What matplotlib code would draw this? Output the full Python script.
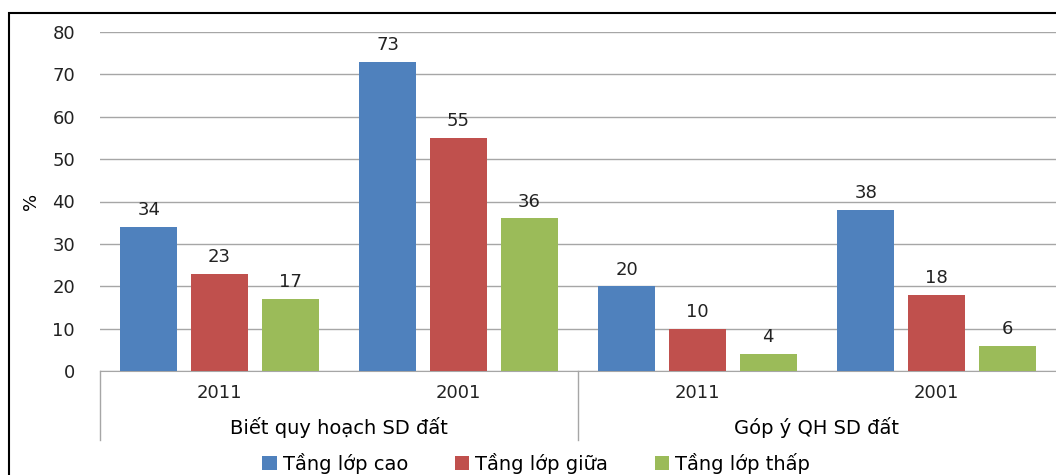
import matplotlib
matplotlib.use('Agg')
import matplotlib.pyplot as plt
from matplotlib.patches import Rectangle
import numpy as np

groups = ['Biết quy hoạch SD đất', 'Góp ý QH SD đất']
years = ['2011', '2001', '2011', '2001']
series = ['Tầng lớp cao', 'Tầng lớp giữa', 'Tầng lớp thấp']
cao = [34, 73, 20, 38]
giua = [23, 55, 10, 18]
thap = [17, 36, 4, 6]
colors = ['#4F81BD', '#C0504D', '#9BBB59']

plt.rcParams['font.family'] = 'DejaVu Sans'

fig = plt.figure(figsize=(10.56, 4.75), dpi=100)
ax = fig.add_axes([100 / 1056, 1 - 371 / 475, 1 - 100 / 1056, (371 - 32) / 475])

x = np.arange(len(years))
w = 0.238
offs = [-0.296, 0.0, 0.296]
for vals, off, c, name in zip([cao, giua, thap], offs, colors, series):
    bars = ax.bar(x + off, vals, w, color=c, label=name, zorder=3)
    for b, v in zip(bars, vals):
        ax.text(b.get_x() + b.get_width() / 2, v + 1.8, str(v), ha='center', va='bottom',
                fontsize=13, color='#222222')

ax.set_xlim(-0.5, 3.5)
ax.set_ylim(0, 80)
ax.set_yticks(range(0, 81, 10))
ax.tick_params(axis='y', length=0, pad=18, labelsize=13, labelcolor='#222222')
ax.set_xticks([])
ax.grid(axis='y', color='#A6A6A6', linewidth=1, zorder=0)
for s in ['top', 'right', 'left']:
    ax.spines[s].set_visible(False)
ax.spines['bottom'].set_color('#A6A6A6')
ax.set_ylabel('%', fontsize=13)
ax.yaxis.set_label_coords(-0.063, 0.5)

# two-level category axis
for xv in [-0.5, 1.5]:
    ax.plot([xv, xv], [0, -0.203], transform=ax.get_xaxis_transform(), color='#A6A6A6',
            linewidth=1, clip_on=False)
for xi, yr in zip(x, years):
    ax.text(xi, -0.065, yr, transform=ax.get_xaxis_transform(), ha='center', va='center',
            fontsize=13, color='#222222')
for gi, g in enumerate(groups):
    ax.text(gi * 2 + 0.5, -0.168, g, transform=ax.get_xaxis_transform(), ha='center',
            va='center', fontsize=14, color='black')

fig.legend(loc='center', bbox_to_anchor=(536 / 1056, 1 - 463 / 475), ncol=3, frameon=False,
           fontsize=14, handlelength=0.75, handleheight=0.75, handletextpad=0.3,
           columnspacing=2.4)

fig.patches.append(Rectangle((9 / 1056, -0.1), 2, 1.1 - 13 / 475, transform=fig.transFigure,
                             fill=False, edgecolor='black', linewidth=1.5))

fig.savefig('out.png', dpi=100)
